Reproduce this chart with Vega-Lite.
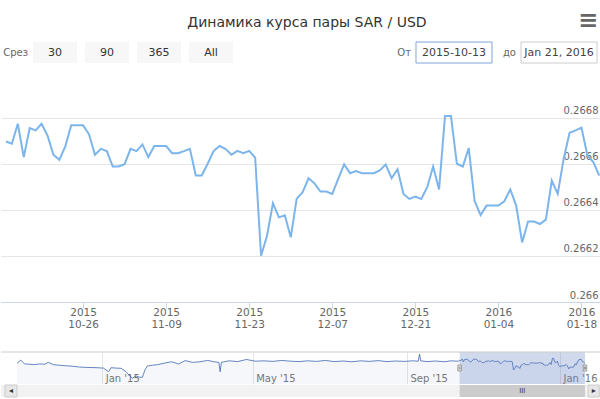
{
  "$schema": "https://vega.github.io/schema/vega-lite/v6.json",
  "padding": {"top": 8, "left": 0, "right": 0, "bottom": 0},
  "background": "#ffffff",
  "title": {"text": "Динамика курса пары SAR / USD", "fontSize": 14, "fontWeight": "normal", "color": "#333333", "font": "DejaVu Sans", "anchor": "middle", "offset": -21, "dx": 5},
  "config": {
    "view": {"stroke": null},
    "font": "DejaVu Sans",
    "axis": {"labelFont": "DejaVu Sans"}
  },
  "datasets": {
    "rates": [
      {"date": "2014-10-25", "rate": 0.26655}, {"date": "2014-10-28", "rate": 0.26672}, {"date": "2014-10-31", "rate": 0.26652},
      {"date": "2014-11-04", "rate": 0.2665}, {"date": "2014-11-08", "rate": 0.26648}, {"date": "2014-11-12", "rate": 0.26652},
      {"date": "2014-11-16", "rate": 0.2665}, {"date": "2014-11-19", "rate": 0.2666}, {"date": "2014-11-23", "rate": 0.26648},
      {"date": "2014-11-28", "rate": 0.26645}, {"date": "2014-12-03", "rate": 0.26642}, {"date": "2014-12-08", "rate": 0.2664},
      {"date": "2014-12-13", "rate": 0.26636}, {"date": "2014-12-18", "rate": 0.26634}, {"date": "2014-12-23", "rate": 0.26633},
      {"date": "2014-12-28", "rate": 0.26632}, {"date": "2015-01-02", "rate": 0.2663}, {"date": "2015-01-06", "rate": 0.26611},
      {"date": "2015-01-08", "rate": 0.26632}, {"date": "2015-01-12", "rate": 0.2663}, {"date": "2015-01-16", "rate": 0.26629},
      {"date": "2015-01-20", "rate": 0.26611}, {"date": "2015-01-23", "rate": 0.26589}, {"date": "2015-01-25", "rate": 0.26577},
      {"date": "2015-01-28", "rate": 0.26589}, {"date": "2015-01-31", "rate": 0.26582}, {"date": "2015-02-02", "rate": 0.26582},
      {"date": "2015-02-04", "rate": 0.2662}, {"date": "2015-02-06", "rate": 0.26641}, {"date": "2015-02-10", "rate": 0.26645},
      {"date": "2015-02-14", "rate": 0.26648}, {"date": "2015-02-19", "rate": 0.26655}, {"date": "2015-02-25", "rate": 0.26663},
      {"date": "2015-02-28", "rate": 0.26658}, {"date": "2015-03-03", "rate": 0.26651}, {"date": "2015-03-08", "rate": 0.26669},
      {"date": "2015-03-14", "rate": 0.2666}, {"date": "2015-03-20", "rate": 0.26663}, {"date": "2015-03-26", "rate": 0.2667},
      {"date": "2015-04-01", "rate": 0.26662}, {"date": "2015-04-04", "rate": 0.2666}, {"date": "2015-04-05", "rate": 0.26611},
      {"date": "2015-04-06", "rate": 0.2666}, {"date": "2015-04-12", "rate": 0.26668}, {"date": "2015-04-19", "rate": 0.26664},
      {"date": "2015-04-26", "rate": 0.26675}, {"date": "2015-05-03", "rate": 0.26666}, {"date": "2015-05-10", "rate": 0.26668},
      {"date": "2015-05-17", "rate": 0.26665}, {"date": "2015-05-24", "rate": 0.2667}, {"date": "2015-05-31", "rate": 0.26666},
      {"date": "2015-06-07", "rate": 0.26664}, {"date": "2015-06-14", "rate": 0.26668}, {"date": "2015-06-21", "rate": 0.26665},
      {"date": "2015-06-28", "rate": 0.2667}, {"date": "2015-07-05", "rate": 0.26664}, {"date": "2015-07-12", "rate": 0.26667},
      {"date": "2015-07-19", "rate": 0.26663}, {"date": "2015-07-26", "rate": 0.26668}, {"date": "2015-08-02", "rate": 0.26665},
      {"date": "2015-08-09", "rate": 0.26669}, {"date": "2015-08-16", "rate": 0.26664}, {"date": "2015-08-23", "rate": 0.26667},
      {"date": "2015-08-30", "rate": 0.26665}, {"date": "2015-09-06", "rate": 0.26668}, {"date": "2015-09-10", "rate": 0.26666},
      {"date": "2015-09-11", "rate": 0.26703}, {"date": "2015-09-12", "rate": 0.26668}, {"date": "2015-09-17", "rate": 0.26664},
      {"date": "2015-09-24", "rate": 0.26667}, {"date": "2015-10-01", "rate": 0.26663}, {"date": "2015-10-06", "rate": 0.26668},
      {"date": "2015-10-12", "rate": 0.26666},
      {"date": "2015-10-13", "rate": 0.266698}, {"date": "2015-10-14", "rate": 0.266688}, {"date": "2015-10-15", "rate": 0.266775},
      {"date": "2015-10-16", "rate": 0.26663}, {"date": "2015-10-17", "rate": 0.266756}, {"date": "2015-10-18", "rate": 0.266746},
      {"date": "2015-10-19", "rate": 0.266775}, {"date": "2015-10-20", "rate": 0.266724}, {"date": "2015-10-21", "rate": 0.26664},
      {"date": "2015-10-22", "rate": 0.266618}, {"date": "2015-10-23", "rate": 0.266676}, {"date": "2015-10-24", "rate": 0.266768},
      {"date": "2015-10-25", "rate": 0.266768}, {"date": "2015-10-26", "rate": 0.266768}, {"date": "2015-10-27", "rate": 0.266729},
      {"date": "2015-10-28", "rate": 0.26664}, {"date": "2015-10-29", "rate": 0.266666}, {"date": "2015-10-30", "rate": 0.266656},
      {"date": "2015-10-31", "rate": 0.266589}, {"date": "2015-11-01", "rate": 0.266589}, {"date": "2015-11-02", "rate": 0.266599},
      {"date": "2015-11-03", "rate": 0.266666}, {"date": "2015-11-04", "rate": 0.266656}, {"date": "2015-11-05", "rate": 0.266685},
      {"date": "2015-11-06", "rate": 0.26663}, {"date": "2015-11-07", "rate": 0.266678}, {"date": "2015-11-08", "rate": 0.266678},
      {"date": "2015-11-09", "rate": 0.266678}, {"date": "2015-11-10", "rate": 0.266647}, {"date": "2015-11-11", "rate": 0.266647},
      {"date": "2015-11-12", "rate": 0.266656}, {"date": "2015-11-13", "rate": 0.266666}, {"date": "2015-11-14", "rate": 0.26655},
      {"date": "2015-11-15", "rate": 0.26655}, {"date": "2015-11-16", "rate": 0.266601}, {"date": "2015-11-17", "rate": 0.266656},
      {"date": "2015-11-18", "rate": 0.266678}, {"date": "2015-11-19", "rate": 0.266666}, {"date": "2015-11-20", "rate": 0.26664},
      {"date": "2015-11-21", "rate": 0.266657}, {"date": "2015-11-22", "rate": 0.266647}, {"date": "2015-11-23", "rate": 0.266657},
      {"date": "2015-11-24", "rate": 0.266628}, {"date": "2015-11-25", "rate": 0.266201}, {"date": "2015-11-26", "rate": 0.266288},
      {"date": "2015-11-27", "rate": 0.266429}, {"date": "2015-11-28", "rate": 0.266368}, {"date": "2015-11-29", "rate": 0.266377},
      {"date": "2015-11-30", "rate": 0.266281}, {"date": "2015-12-01", "rate": 0.266448}, {"date": "2015-12-02", "rate": 0.266477},
      {"date": "2015-12-03", "rate": 0.266538}, {"date": "2015-12-04", "rate": 0.266516}, {"date": "2015-12-05", "rate": 0.26648},
      {"date": "2015-12-06", "rate": 0.26648}, {"date": "2015-12-07", "rate": 0.26647}, {"date": "2015-12-08", "rate": 0.266535},
      {"date": "2015-12-09", "rate": 0.266598}, {"date": "2015-12-10", "rate": 0.26656}, {"date": "2015-12-11", "rate": 0.266569},
      {"date": "2015-12-12", "rate": 0.26656}, {"date": "2015-12-13", "rate": 0.26656}, {"date": "2015-12-14", "rate": 0.26656},
      {"date": "2015-12-15", "rate": 0.266572}, {"date": "2015-12-16", "rate": 0.266598}, {"date": "2015-12-17", "rate": 0.266538},
      {"date": "2015-12-18", "rate": 0.266577}, {"date": "2015-12-19", "rate": 0.26647}, {"date": "2015-12-20", "rate": 0.266448},
      {"date": "2015-12-21", "rate": 0.266458}, {"date": "2015-12-22", "rate": 0.266448}, {"date": "2015-12-23", "rate": 0.266499},
      {"date": "2015-12-24", "rate": 0.266589}, {"date": "2015-12-25", "rate": 0.266489}, {"date": "2015-12-26", "rate": 0.266809},
      {"date": "2015-12-27", "rate": 0.266809}, {"date": "2015-12-28", "rate": 0.266601}, {"date": "2015-12-29", "rate": 0.266589},
      {"date": "2015-12-30", "rate": 0.266669}, {"date": "2015-12-31", "rate": 0.266438}, {"date": "2016-01-01", "rate": 0.266378},
      {"date": "2016-01-02", "rate": 0.266419}, {"date": "2016-01-03", "rate": 0.266419}, {"date": "2016-01-04", "rate": 0.266419},
      {"date": "2016-01-05", "rate": 0.266438}, {"date": "2016-01-06", "rate": 0.266489}, {"date": "2016-01-07", "rate": 0.266419},
      {"date": "2016-01-08", "rate": 0.266259}, {"date": "2016-01-09", "rate": 0.26635}, {"date": "2016-01-10", "rate": 0.26635},
      {"date": "2016-01-11", "rate": 0.266339}, {"date": "2016-01-12", "rate": 0.266358}, {"date": "2016-01-13", "rate": 0.266528},
      {"date": "2016-01-14", "rate": 0.26647}, {"date": "2016-01-15", "rate": 0.266623}, {"date": "2016-01-16", "rate": 0.266736},
      {"date": "2016-01-17", "rate": 0.266746}, {"date": "2016-01-18", "rate": 0.266758}, {"date": "2016-01-19", "rate": 0.266637},
      {"date": "2016-01-20", "rate": 0.266608}, {"date": "2016-01-21", "rate": 0.26655}
    ],
    "window": [{"from": "2015-10-13", "to": "2016-01-21"}],
    "controls": [
      {"group": "left", "item": "30", "prefix": "Срез"},
      {"group": "left", "item": "90"},
      {"group": "left", "item": "365"},
      {"group": "left", "item": "All"},
      {"group": "right", "item": "2015-10-13", "prefix": "От"},
      {"group": "right", "item": "Jan 21, 2016", "prefix": "до"}
    ]
  },
  "spacing": 25,
  "vconcat": [
    {
      "width": 600,
      "height": 21,
      "data": {"name": "controls"},
      "layer": [
        {
          "transform": [{"filter": "datum.group === 'left'"}],
          "encoding": {"x": {"field": "item", "type": "nominal", "sort": null, "scale": {"type": "band", "domain": ["30", "90", "365", "All"], "range": [28, 236], "paddingInner": 0.154, "paddingOuter": 0.077}, "axis": null}},
          "layer": [
            {"mark": {"type": "rect", "fill": "#f7f7f7"}},
            {"mark": {"type": "text", "fontSize": 11, "color": "#333333"}, "encoding": {"text": {"field": "item", "type": "nominal"}}},
            {"transform": [{"filter": "datum.prefix"}], "mark": {"type": "text", "fontSize": 10, "color": "#666666", "align": "right", "dx": -5}, "encoding": {"x": {"field": "item", "type": "nominal", "bandPosition": 0}, "text": {"field": "prefix", "type": "nominal"}}}
          ]
        },
        {
          "transform": [{"filter": "datum.group === 'right'"}],
          "encoding": {"x": {"field": "item", "type": "nominal", "sort": null, "scale": {"type": "band", "domain": ["2015-10-13", "Jan 21, 2016"], "range": [400.5, 610.5], "paddingInner": 0.276, "paddingOuter": 0.138}, "axis": null}},
          "layer": [
            {"mark": {"type": "rect", "fill": "#ffffff", "strokeWidth": 1}, "encoding": {"stroke": {"condition": {"test": "datum.item === '2015-10-13'", "value": "#7fa7d8"}, "value": "#cccccc"}}},
            {"mark": {"type": "text", "fontSize": 11, "color": "#444444"}, "encoding": {"text": {"field": "item", "type": "nominal"}}},
            {"mark": {"type": "text", "fontSize": 10, "color": "#666666", "align": "right", "dx": -5}, "encoding": {"x": {"field": "item", "type": "nominal", "bandPosition": 0}, "text": {"field": "prefix", "type": "nominal"}}},
            {"transform": [{"filter": "datum.item === 'Jan 21, 2016'"}], "mark": {"type": "text", "text": "≡", "fontSize": 24, "fontWeight": "bold", "color": "#666666", "dx": 29, "dy": -32}}
          ]
        }
      ],
      "resolve": {"scale": {"x": "independent"}}
    },
    {
      "spacing": 21,
      "vconcat": [
        {
          "width": 600,
          "height": 213,
          "data": {"name": "rates"},
          "transform": [{"filter": {"field": "date", "gte": {"year": 2015, "month": 10, "date": 13, "utc": true}}}],
          "mark": {"type": "line", "color": "#7cb5ec", "strokeWidth": 2},
          "encoding": {
            "x": {
              "field": "date", "type": "temporal",
              "scale": {"type": "utc", "domain": [{"year": 2015, "month": 10, "date": 12, "hours": 4, "utc": true}, {"year": 2016, "month": 1, "date": 21, "hours": 7, "utc": true}]},
              "axis": {
                "title": null, "grid": false,
                "values": [
                  {"year": 2015, "month": 10, "date": 26, "utc": true}, {"year": 2015, "month": 11, "date": 9, "utc": true},
                  {"year": 2015, "month": 11, "date": 23, "utc": true}, {"year": 2015, "month": 12, "date": 7, "utc": true},
                  {"year": 2015, "month": 12, "date": 21, "utc": true}, {"year": 2016, "month": 1, "date": 4, "utc": true},
                  {"year": 2016, "month": 1, "date": 18, "utc": true}
                ],
                "labelExpr": "[utcFormat(datum.value, '%Y'), utcFormat(datum.value, '%m-%d')]",
                "domainColor": "#ccd6eb", "tickColor": "#ccd6eb", "tickSize": 6,
                "labelColor": "#666666", "labelFontSize": 10.5, "labelLineHeight": 12, "labelPadding": -1,
                "labelOverlap": false, "labelFlush": false
              }
            },
            "y": {
              "field": "rate", "type": "quantitative",
              "scale": {"domain": [0.266, 0.266926], "zero": false, "nice": false},
              "axis": {
                "orient": "right", "title": null,
                "values": [0.266, 0.2662, 0.2664, 0.2666, 0.2668],
                "format": ".4~f",
                "grid": true, "gridColor": "#e6e6e6", "domain": false, "ticks": false,
                "labelAlign": "right", "labelBaseline": "alphabetic", "labelPadding": -3, "labelOffset": -4,
                "labelColor": "#666666", "labelFontSize": 10
              }
            }
          }
        },
        {
          "spacing": 0,
          "vconcat": [
            {
              "width": 600,
              "height": 32,
              "layer": [
                {
                  "data": {"name": "rates"},
                  "mark": {"type": "area", "color": "#335cad", "fillOpacity": 0.05, "clip": true},
                  "encoding": {
                    "x": {
                      "field": "date", "type": "temporal",
                      "scale": {"type": "utc", "domain": [{"year": 2014, "month": 10, "date": 12, "hours": 6, "utc": true}, {"year": 2016, "month": 2, "date": 2, "hours": 18, "utc": true}]},
                      "axis": {
                        "title": null, "orient": "bottom",
                        "values": [
                          {"year": 2015, "month": 1, "date": 1, "utc": true}, {"year": 2015, "month": 5, "date": 1, "utc": true},
                          {"year": 2015, "month": 9, "date": 1, "utc": true}, {"year": 2016, "month": 1, "date": 1, "utc": true}
                        ],
                        "labelExpr": "utcFormat(datum.value, \"%b '%y\")",
                        "grid": true, "gridColor": "#e6e6e6", "domain": false, "ticks": false,
                        "labelAlign": "left", "labelBaseline": "alphabetic", "labelPadding": -3, "labelOffset": 3,
                        "labelColor": "#777777", "labelFontSize": 10, "labelFlush": false, "labelOverlap": false
                      }
                    },
                    "y": {"field": "rate", "type": "quantitative", "scale": {"domain": [0.26547, 0.26714], "zero": false, "nice": false}, "axis": null}
                  }
                },
                {
                  "data": {"name": "rates"},
                  "mark": {"type": "line", "color": "#335cad", "strokeWidth": 1, "opacity": 0.75, "clip": true},
                  "encoding": {
                    "x": {"field": "date", "type": "temporal"},
                    "y": {"field": "rate", "type": "quantitative"}
                  }
                },
                {
                  "data": {"name": "window"},
                  "mark": {"type": "rect", "color": "#6685c2", "opacity": 0.3},
                  "encoding": {
                    "x": {"field": "from", "type": "temporal"},
                    "x2": {"field": "to"}
                  }
                },
                {
                  "data": {"name": "window"},
                  "mark": {"type": "rule", "color": "#cccccc", "strokeWidth": 1},
                  "encoding": {"y": {"datum": 0.26714, "type": "quantitative"}}
                },
                {
                  "data": {"name": "window"},
                  "mark": {"type": "point", "shape": "M-0.29,-0.5H0.29V0.5H-0.29ZM-0.08,-0.25V0.25M0.08,-0.25V0.25", "size": 144, "filled": false, "fill": "#f2f2f2", "fillOpacity": 1, "stroke": "#999999", "strokeWidth": 1, "opacity": 1},
                  "encoding": {"x": {"field": "from", "type": "temporal"}}
                },
                {
                  "data": {"name": "window"},
                  "mark": {"type": "point", "shape": "M-0.29,-0.5H0.29V0.5H-0.29ZM-0.08,-0.25V0.25M0.08,-0.25V0.25", "size": 144, "filled": false, "fill": "#f2f2f2", "fillOpacity": 1, "stroke": "#999999", "strokeWidth": 1, "opacity": 1},
                  "encoding": {"x": {"field": "to", "type": "temporal"}}
                }
              ]
            },
            {
              "width": 600,
              "height": 12,
              "view": {"fill": "#f2f2f2", "stroke": null},
              "data": {"name": "window"},
              "layer": [
                {
                  "mark": {"type": "rect", "color": "#cccccc"},
                  "encoding": {
                    "x": {"field": "from", "type": "temporal", "scale": {"type": "utc", "domain": [{"year": 2014, "month": 10, "date": 12, "hours": 6, "utc": true}, {"year": 2016, "month": 2, "date": 2, "hours": 18, "utc": true}]}, "axis": null},
                    "x2": {"field": "to"}
                  }
                },
                {
                  "mark": {"type": "text", "text": "III", "fontSize": 7, "color": "#333333"},
                  "encoding": {"x": {"datum": {"year": 2015, "month": 12, "date": 2, "utc": true}, "type": "temporal"}}
                },
                {
                  "mark": {"type": "rect", "fill": "#e6e6e6", "stroke": "#cccccc", "strokeWidth": 1},
                  "encoding": {
                    "x": {"datum": {"year": 2014, "month": 10, "date": 15, "hours": 11, "utc": true}, "type": "temporal"},
                    "x2": {"datum": {"year": 2014, "month": 10, "date": 25, "utc": true}}
                  }
                },
                {
                  "mark": {"type": "rect", "fill": "#e6e6e6", "stroke": "#cccccc", "strokeWidth": 1},
                  "encoding": {
                    "x": {"datum": {"year": 2016, "month": 1, "date": 23, "hours": 10, "utc": true}, "type": "temporal"},
                    "x2": {"datum": {"year": 2016, "month": 2, "date": 1, "hours": 9, "utc": true}}
                  }
                },
                {
                  "mark": {"type": "text", "text": "◂", "fontSize": 8, "color": "#333333"},
                  "encoding": {"x": {"datum": {"year": 2014, "month": 10, "date": 20, "hours": 5, "utc": true}, "type": "temporal"}}
                },
                {
                  "mark": {"type": "text", "text": "▸", "fontSize": 8, "color": "#333333"},
                  "encoding": {"x": {"datum": {"year": 2016, "month": 1, "date": 27, "hours": 21, "utc": true}, "type": "temporal"}}
                }
              ]
            }
          ]
        }
      ]
    }
  ]
}
